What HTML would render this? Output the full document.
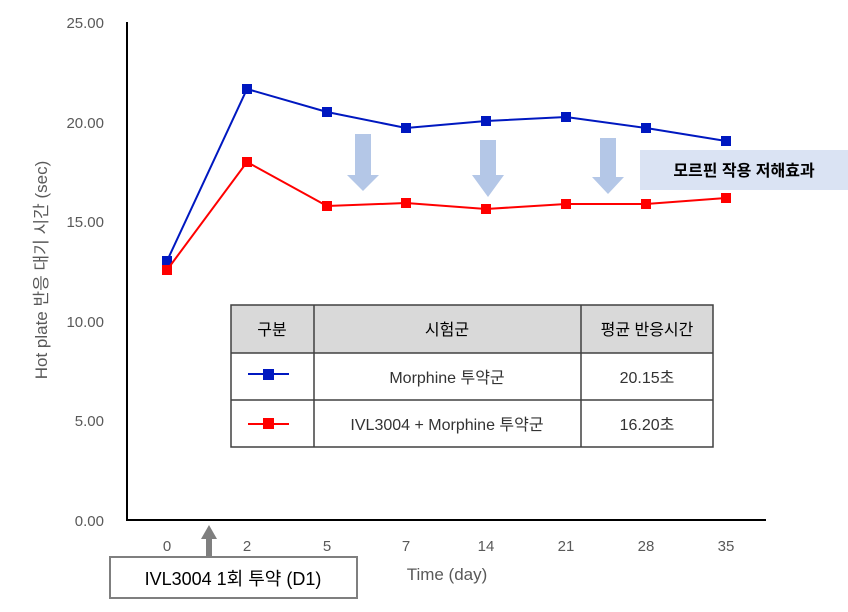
<!DOCTYPE html>
<html><head><meta charset="utf-8"><style>
body{margin:0;background:#fff}
svg{display:block;font-family:"Liberation Sans","Noto Sans CJK KR",sans-serif}
</style></head><body>
<svg width="848" height="612" viewBox="0 0 848 612">
<g fill="#595959" font-size="15" text-anchor="end">
<text x="104" y="28">25.00</text><text x="104" y="128">20.00</text><text x="104" y="227">15.00</text>
<text x="104" y="327">10.00</text><text x="104" y="426">5.00</text><text x="104" y="526">0.00</text>
</g>
<text transform="translate(47,270) rotate(-90)" text-anchor="middle" fill="#595959" font-size="17">Hot plate  반응 대기 시간 (sec)</text>
<line x1="127" y1="22" x2="127" y2="521" stroke="#000" stroke-width="2"/>
<line x1="126" y1="520" x2="766" y2="520" stroke="#000" stroke-width="2"/>
<g fill="#595959" font-size="15" text-anchor="middle">
<text x="167" y="551">0</text><text x="247" y="551">2</text><text x="327" y="551">5</text><text x="406" y="551">7</text>
<text x="486" y="551">14</text><text x="566" y="551">21</text><text x="646" y="551">28</text><text x="726" y="551">35</text>
</g>
<text x="447" y="580" text-anchor="middle" fill="#595959" font-size="17">Time (day)</text>
<g fill="#b4c7e7">
<polygon points="355,134 371,134 371,175 379,175 363,191 347,175 355,175"/>
<polygon points="480,140 496,140 496,175 504,175 488,197 472,175 480,175"/>
<polygon points="600,138 616,138 616,177 624,177 608,194 592,177 600,177"/>
</g>
<rect x="640" y="150" width="208" height="40" fill="#dae3f3"/>
<text x="744" y="176" text-anchor="middle" font-size="16" font-weight="bold" fill="#000">모르핀 작용 저해효과</text>
<polyline points="167,261 247,89 327,112 406,128 486,121 566,117 646,128 726,141" fill="none" stroke="#0018c0" stroke-width="2"/>
<g fill="#0018c0">
<rect x="162" y="256" width="10" height="10"/><rect x="242" y="84" width="10" height="10"/><rect x="322" y="107" width="10" height="10"/><rect x="401" y="123" width="10" height="10"/><rect x="481" y="116" width="10" height="10"/><rect x="561" y="112" width="10" height="10"/><rect x="641" y="123" width="10" height="10"/><rect x="721" y="136" width="10" height="10"/>
</g>
<polyline points="167,270 247,162 327,206 406,203 486,209 566,204 646,204 726,198" fill="none" stroke="#ff0000" stroke-width="2"/>
<g fill="#ff0000">
<rect x="162" y="265" width="10" height="10"/><rect x="242" y="157" width="10" height="10"/><rect x="322" y="201" width="10" height="10"/><rect x="401" y="198" width="10" height="10"/><rect x="481" y="204" width="10" height="10"/><rect x="561" y="199" width="10" height="10"/><rect x="641" y="199" width="10" height="10"/><rect x="721" y="193" width="10" height="10"/>
</g>
<rect x="231" y="305" width="482" height="48" fill="#d9d9d9"/>
<rect x="231" y="353" width="482" height="94" fill="#fff"/>
<g stroke="#404040" stroke-width="1.5" fill="none">
<rect x="231" y="305" width="482" height="142"/>
<line x1="231" y1="353" x2="713" y2="353"/><line x1="231" y1="400" x2="713" y2="400"/>
<line x1="314" y1="305" x2="314" y2="447"/><line x1="581" y1="305" x2="581" y2="447"/>
</g>
<g font-size="16" text-anchor="middle" fill="#000">
<text x="272" y="335">구분</text><text x="447" y="335">시험군</text><text x="647" y="335">평균 반응시간</text>
<text x="447" y="383" fill="#333">Morphine 투약군</text><text x="647" y="383" fill="#333">20.15초</text>
<text x="447" y="430" fill="#333">IVL3004 + Morphine 투약군</text><text x="647" y="430" fill="#333">16.20초</text>
</g>
<line x1="248" y1="374" x2="289" y2="374" stroke="#0018c0" stroke-width="2"/><rect x="263" y="369" width="11" height="11" fill="#0018c0"/>
<line x1="248" y1="424" x2="289" y2="424" stroke="#ff0000" stroke-width="2"/><rect x="263" y="418" width="11" height="11" fill="#ff0000"/>
<polygon points="209,525 217,539 212,539 212,557 206,557 206,539 201,539" fill="#7f7f7f"/>
<rect x="110" y="557" width="247" height="41" fill="#fff" stroke="#7f7f7f" stroke-width="2"/>
<text x="233" y="585" text-anchor="middle" font-size="18" fill="#000">IVL3004 1회 투약 (D1)</text>
</svg>
</body></html>
